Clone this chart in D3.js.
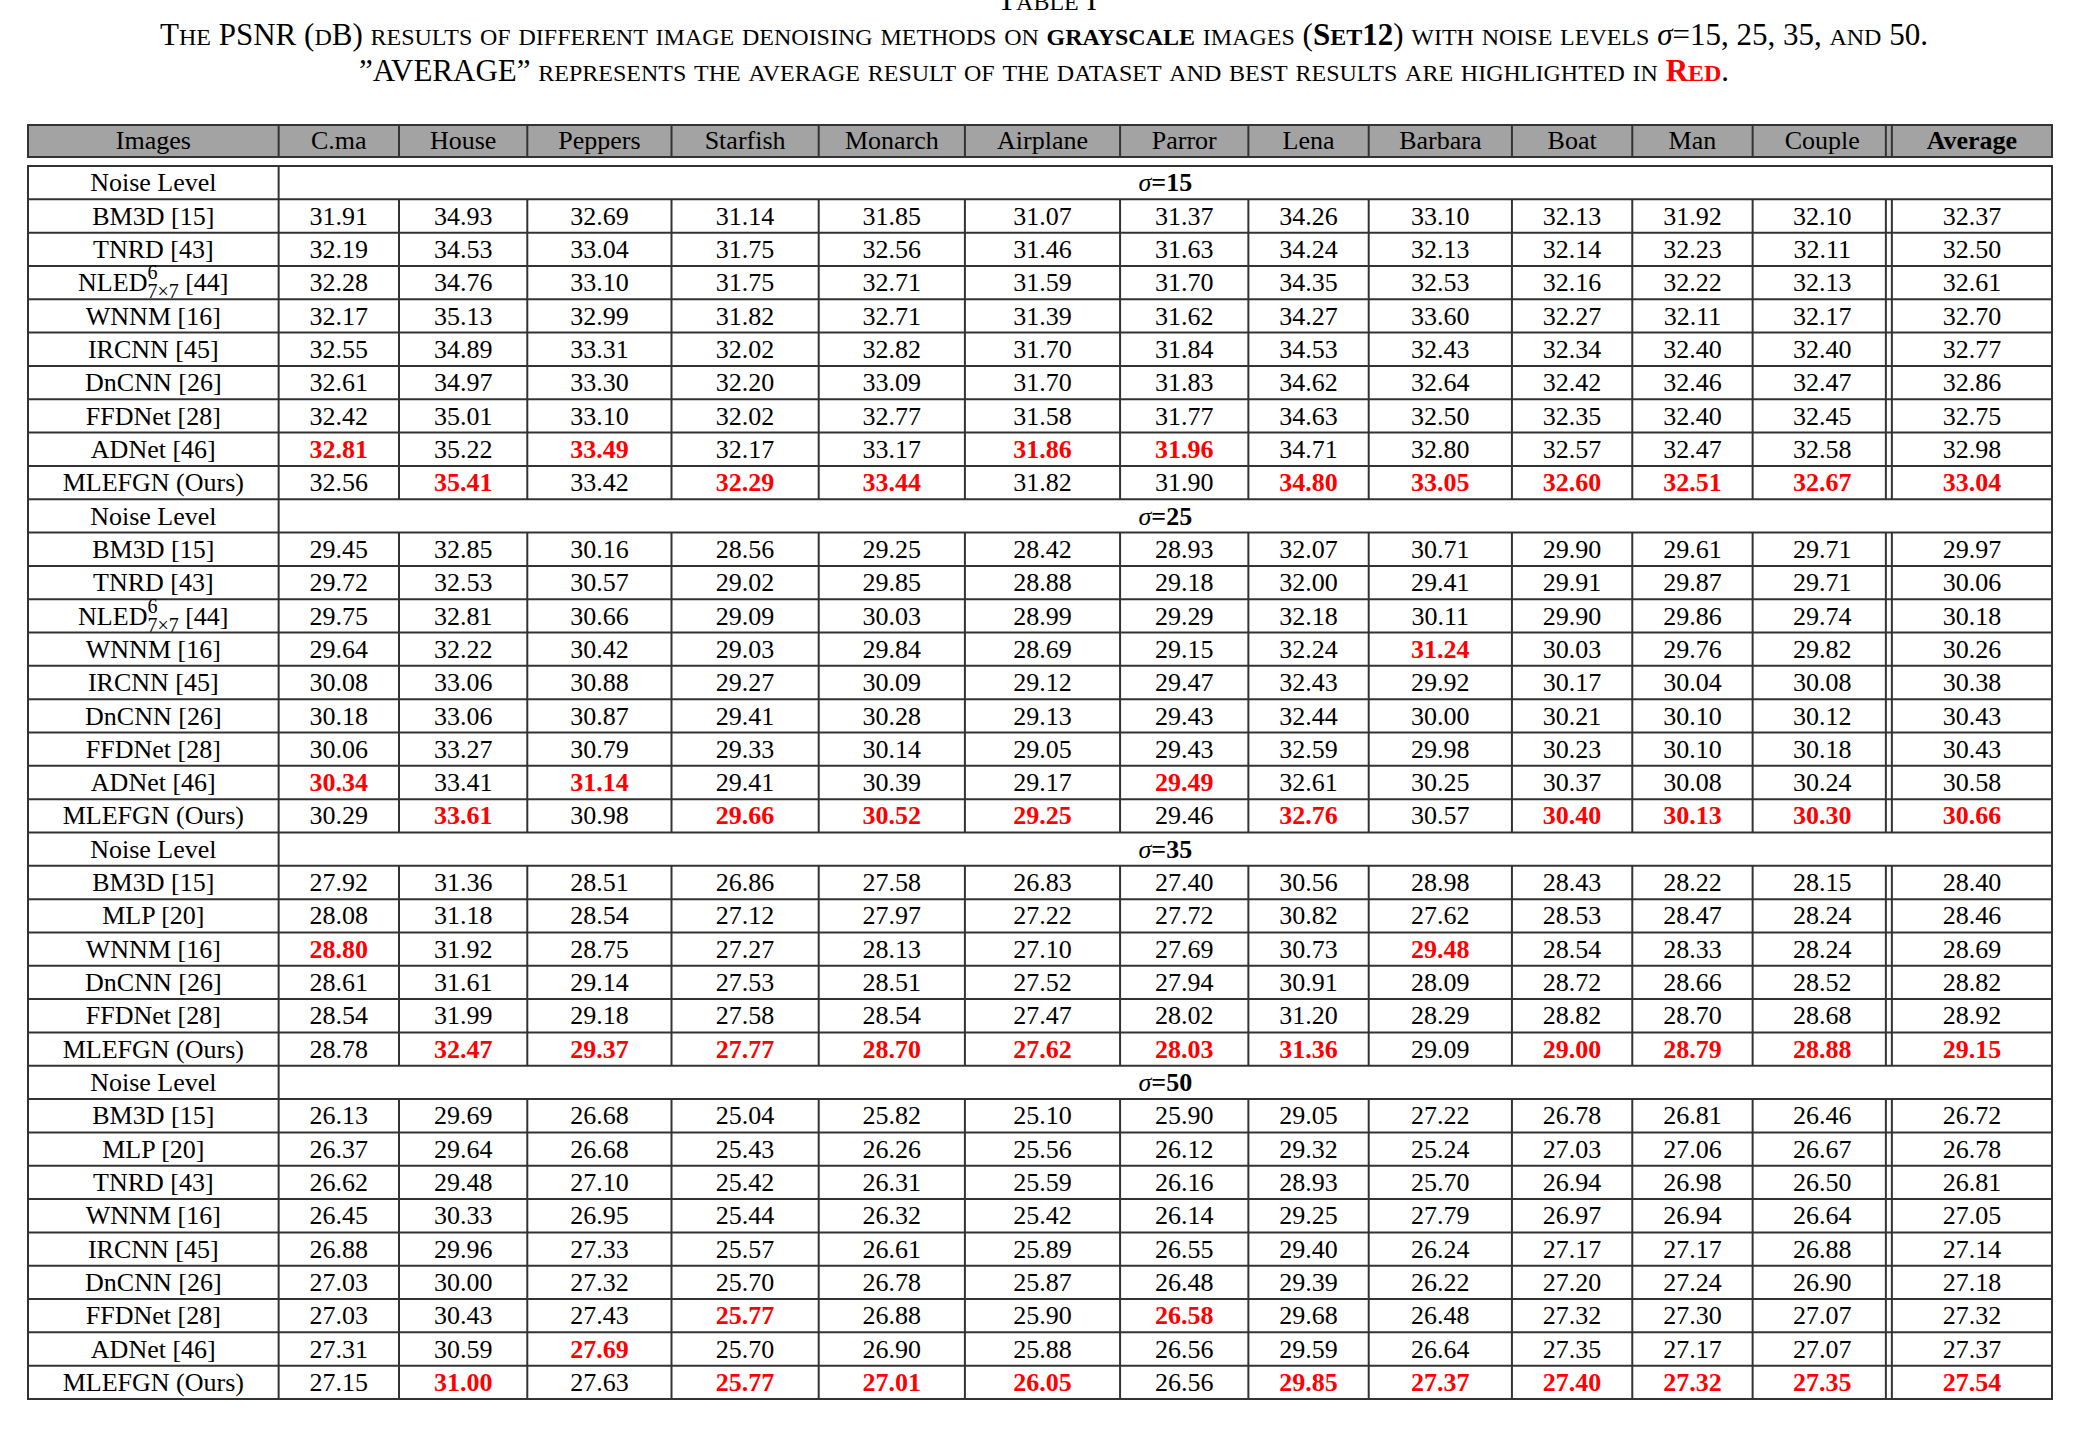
<!DOCTYPE html>
<html><head><meta charset="utf-8">
<script src="https://cdn.jsdelivr.net/npm/d3@7"></script>
<style>body{margin:0;background:#fff}svg{display:block}</style>
</head><body><svg id="c" width="2094" height="1430"></svg>
<script>
const columns = ["Images","C.ma","House","Peppers","Starfish","Monarch","Airplane","Parror","Lena","Barbara","Boat","Man","Couple","Average"];
const noiseLevels = ["15","25","35","50"];
const methods15 = ["BM3D [15]","TNRD [43]","NLED","WNNM [16]","IRCNN [45]","DnCNN [26]","FFDNet [28]","ADNet [46]","MLEFGN (Ours)"];
const values15 = [
[31.91,34.93,32.69,31.14,31.85,31.07,31.37,34.26,33.10,32.13,31.92,32.10,32.37],
[32.19,34.53,33.04,31.75,32.56,31.46,31.63,34.24,32.13,32.14,32.23,32.11,32.50],
[32.28,34.76,33.10,31.75,32.71,31.59,31.70,34.35,32.53,32.16,32.22,32.13,32.61],
[32.17,35.13,32.99,31.82,32.71,31.39,31.62,34.27,33.60,32.27,32.11,32.17,32.70],
[32.55,34.89,33.31,32.02,32.82,31.70,31.84,34.53,32.43,32.34,32.40,32.40,32.77],
[32.61,34.97,33.30,32.20,33.09,31.70,31.83,34.62,32.64,32.42,32.46,32.47,32.86],
[32.42,35.01,33.10,32.02,32.77,31.58,31.77,34.63,32.50,32.35,32.40,32.45,32.75],
[32.81,35.22,33.49,32.17,33.17,31.86,31.96,34.71,32.80,32.57,32.47,32.58,32.98],
[32.56,35.41,33.42,32.29,33.44,31.82,31.90,34.80,33.05,32.60,32.51,32.67,33.04]];
const best15 = [[],[],[],[],[],[],[],[0,2,5,6],[1,3,4,7,8,9,10,11,12]];
const methods25 = ["BM3D [15]","TNRD [43]","NLED","WNNM [16]","IRCNN [45]","DnCNN [26]","FFDNet [28]","ADNet [46]","MLEFGN (Ours)"];
const values25 = [
[29.45,32.85,30.16,28.56,29.25,28.42,28.93,32.07,30.71,29.90,29.61,29.71,29.97],
[29.72,32.53,30.57,29.02,29.85,28.88,29.18,32.00,29.41,29.91,29.87,29.71,30.06],
[29.75,32.81,30.66,29.09,30.03,28.99,29.29,32.18,30.11,29.90,29.86,29.74,30.18],
[29.64,32.22,30.42,29.03,29.84,28.69,29.15,32.24,31.24,30.03,29.76,29.82,30.26],
[30.08,33.06,30.88,29.27,30.09,29.12,29.47,32.43,29.92,30.17,30.04,30.08,30.38],
[30.18,33.06,30.87,29.41,30.28,29.13,29.43,32.44,30.00,30.21,30.10,30.12,30.43],
[30.06,33.27,30.79,29.33,30.14,29.05,29.43,32.59,29.98,30.23,30.10,30.18,30.43],
[30.34,33.41,31.14,29.41,30.39,29.17,29.49,32.61,30.25,30.37,30.08,30.24,30.58],
[30.29,33.61,30.98,29.66,30.52,29.25,29.46,32.76,30.57,30.40,30.13,30.30,30.66]];
const best25 = [[],[],[],[8],[],[],[],[0,2,6],[1,3,4,5,7,9,10,11,12]];
const methods35 = ["BM3D [15]","MLP [20]","WNNM [16]","DnCNN [26]","FFDNet [28]","MLEFGN (Ours)"];
const values35 = [
[27.92,31.36,28.51,26.86,27.58,26.83,27.40,30.56,28.98,28.43,28.22,28.15,28.40],
[28.08,31.18,28.54,27.12,27.97,27.22,27.72,30.82,27.62,28.53,28.47,28.24,28.46],
[28.80,31.92,28.75,27.27,28.13,27.10,27.69,30.73,29.48,28.54,28.33,28.24,28.69],
[28.61,31.61,29.14,27.53,28.51,27.52,27.94,30.91,28.09,28.72,28.66,28.52,28.82],
[28.54,31.99,29.18,27.58,28.54,27.47,28.02,31.20,28.29,28.82,28.70,28.68,28.92],
[28.78,32.47,29.37,27.77,28.70,27.62,28.03,31.36,29.09,29.00,28.79,28.88,29.15]];
const best35 = [[],[],[0,8],[],[],[1,2,3,4,5,6,7,9,10,11,12]];
const methods50 = ["BM3D [15]","MLP [20]","TNRD [43]","WNNM [16]","IRCNN [45]","DnCNN [26]","FFDNet [28]","ADNet [46]","MLEFGN (Ours)"];
const values50 = [
[26.13,29.69,26.68,25.04,25.82,25.10,25.90,29.05,27.22,26.78,26.81,26.46,26.72],
[26.37,29.64,26.68,25.43,26.26,25.56,26.12,29.32,25.24,27.03,27.06,26.67,26.78],
[26.62,29.48,27.10,25.42,26.31,25.59,26.16,28.93,25.70,26.94,26.98,26.50,26.81],
[26.45,30.33,26.95,25.44,26.32,25.42,26.14,29.25,27.79,26.97,26.94,26.64,27.05],
[26.88,29.96,27.33,25.57,26.61,25.89,26.55,29.40,26.24,27.17,27.17,26.88,27.14],
[27.03,30.00,27.32,25.70,26.78,25.87,26.48,29.39,26.22,27.20,27.24,26.90,27.18],
[27.03,30.43,27.43,25.77,26.88,25.90,26.58,29.68,26.48,27.32,27.30,27.07,27.32],
[27.31,30.59,27.69,25.70,26.90,25.88,26.56,29.59,26.64,27.35,27.17,27.07,27.37],
[27.15,31.00,27.63,25.77,27.01,26.05,26.56,29.85,27.37,27.40,27.32,27.35,27.54]];
const best50 = [[],[],[],[],[],[],[3,6],[2],[1,3,4,5,7,8,9,10,11,12]];

const groups = [
 {sigma:noiseLevels[0],methods:methods15,values:values15,best:best15},
 {sigma:noiseLevels[1],methods:methods25,values:values25,best:best25},
 {sigma:noiseLevels[2],methods:methods35,values:values35,best:best35},
 {sigma:noiseLevels[3],methods:methods50,values:values50,best:best50}];

const rawEdges = [28,280,401,530,675,823,970,1126,1255,1376,1520,1641,1762,1902,2063];
const colEdges = rawEdges.map(x=>28+(x-28)*(2024/2035));
const F = "'Liberation Serif','Times New Roman',serif";
const fmt = d3.format(".2f");
const svg = d3.select("#c");
const LINE="#333";

// manual small caps
function sc(el, str, big, small, attrs){
  const parts = str.match(/[a-z]+|[^a-z]+/g)||[];
  parts.forEach(p=>{
    const t=el.append("tspan");
    if(/^[a-z]/.test(p)) t.attr("font-size",small).text(p.toUpperCase());
    else t.attr("font-size",big).text(p);
    if(attrs) Object.entries(attrs).forEach(([k,v])=>t.attr(k,v));
  });
}
const B=31,S=24;
const t0 = svg.append("text").attr("x",1047).attr("y",10).attr("text-anchor","middle").attr("font-family",F);
sc(t0,"Table I",B,S);
const t1 = svg.append("text").attr("x",1044).attr("y",45).attr("text-anchor","middle").attr("font-family",F);
sc(t1,"The PSNR (dB) results of different image denoising methods on ",B,S);
sc(t1,"grayscale",B,S,{"font-weight":"bold"});
sc(t1," images (",B,S);
sc(t1,"Set12",B,S,{"font-weight":"bold"});
sc(t1,") with noise levels ",B,S);
t1.append("tspan").attr("font-size",B).attr("font-style","italic").text("σ");
sc(t1,"=15, 25, 35, and 50.",B,S);
const t2 = svg.append("text").attr("x",1044).attr("y",81).attr("text-anchor","middle").attr("font-family",F);
sc(t2,"”AVERAGE” represents the average result of the dataset and best results are highlighted in ",B,S);
sc(t2,"Red",B,S,{"fill":"#ff0000","font-weight":"bold"});
sc(t2,".",B,S);

// header
const hTop=125,hBot=157;
const L=colEdges[0],R=colEdges[14];
svg.append("rect").attr("x",L).attr("y",hTop).attr("width",R-L).attr("height",hBot-hTop)
 .attr("fill","#a3a3a3").attr("stroke",LINE).attr("stroke-width",2);
colEdges.slice(1,14).forEach((x,i)=>{
  svg.append("line").attr("x1",x).attr("x2",x).attr("y1",hTop).attr("y2",hBot).attr("stroke",LINE).attr("stroke-width",2);
  if(i===12) svg.append("line").attr("x1",x-6).attr("x2",x-6).attr("y1",hTop).attr("y2",hBot).attr("stroke",LINE).attr("stroke-width",2);
});
columns.forEach((c,i)=>{
  svg.append("text").attr("x",(colEdges[i]+colEdges[i+1])/2).attr("y",hBot-8)
   .attr("text-anchor","middle").attr("font-family",F).attr("font-size",26)
   .attr("font-weight",i===13?"bold":"normal").text(c);
});

const rows=[];
groups.forEach(g=>{
  rows.push({type:"sigma",sigma:g.sigma});
  g.methods.forEach((m,i)=>rows.push({type:"data",name:m,vals:g.values[i],best:g.best[i]}));
});
const bTop=166,bBot=1399;
const y = d3.scaleBand().domain(d3.range(rows.length)).range([bTop,bBot]);
const rh=y.bandwidth();
svg.append("rect").attr("x",L).attr("y",bTop).attr("width",R-L).attr("height",bBot-bTop)
 .attr("fill","none").attr("stroke",LINE).attr("stroke-width",2);
rows.forEach((r,ri)=>{
  const yt=y(ri), yb=yt+rh, base=yb-8;
  if(ri>0) svg.append("line").attr("x1",L).attr("x2",R).attr("y1",yt).attr("y2",yt).attr("stroke",LINE).attr("stroke-width",2);
  const vlines = r.type==="sigma"?[colEdges[1]]:colEdges.slice(1,14);
  vlines.forEach((x,i)=>{
    svg.append("line").attr("x1",x).attr("x2",x).attr("y1",yt).attr("y2",yb).attr("stroke",LINE).attr("stroke-width",2);
    if(r.type==="data"&&i===12) svg.append("line").attr("x1",x-6).attr("x2",x-6).attr("y1",yt).attr("y2",yb).attr("stroke",LINE).attr("stroke-width",2);
  });
  const cx0=(colEdges[0]+colEdges[1])/2;
  if(r.type==="sigma"){
    svg.append("text").attr("x",cx0).attr("y",base).attr("text-anchor","middle").attr("font-family",F).attr("font-size",26).text("Noise Level");
    const s=svg.append("text").attr("x",(colEdges[1]+colEdges[14])/2).attr("y",base).attr("text-anchor","middle")
      .attr("font-family",F).attr("font-size",26).attr("font-weight","bold");
    s.append("tspan").attr("font-style","italic").attr("font-weight","normal").text("σ");
    s.append("tspan").text("="+r.sigma);
  } else {
    const nt=svg.append("text").attr("x",cx0).attr("y",base).attr("text-anchor","middle").attr("font-family",F).attr("font-size",26);
    if(r.name==="NLED"){
      nt.append("tspan").text("NLED");
      nt.append("tspan").attr("font-size",20).attr("dy",-12).text("6");
      nt.append("tspan").attr("font-size",20).attr("dx",-10).attr("dy",19).text("7×7");
      nt.append("tspan").attr("dy",-7).text("  [44]");
    } else nt.text(r.name);
    r.vals.forEach((v,i)=>{
      const b=r.best.includes(i);
      svg.append("text").attr("x",(colEdges[i+1]+colEdges[i+2])/2).attr("y",base)
       .attr("text-anchor","middle").attr("font-family",F).attr("font-size",26)
       .attr("font-weight",b?"bold":"normal").attr("fill",b?"#ff0000":"#000").text(fmt(v));
    });
  }
});
</script></body></html>
